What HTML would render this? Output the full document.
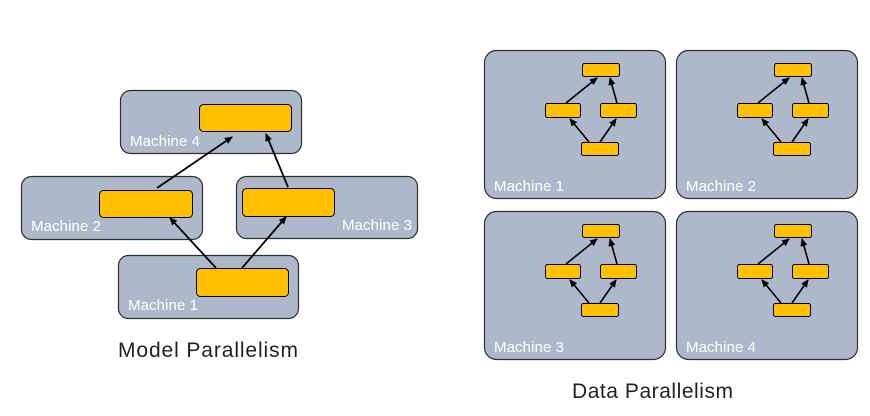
<!DOCTYPE html>
<html><head><meta charset="utf-8"><style>
html,body{margin:0;padding:0;background:#fff;}
svg{display:block;}
text{font-family:"Liberation Sans","Noto Sans CJK SC",sans-serif;}
</style></head><body>
<svg width="870" height="416" viewBox="0 0 870 416" xmlns="http://www.w3.org/2000/svg">
<defs>
<marker id="a" markerWidth="8" markerHeight="8" refX="7" refY="4" orient="auto" markerUnits="userSpaceOnUse">
<path d="M0,0.5 L8,4 L0,7.5 Z" fill="#000"/></marker>
<g id="m">
<rect x="484.5" y="50.5" width="181" height="148" rx="12" fill="#adb9ca" stroke="#2f2f2f" stroke-width="1.2"/>
<g fill="#ffc000" stroke="#000" stroke-width="1">
<rect x="582.5" y="63.5" width="37" height="13" rx="2"/>
<rect x="545.5" y="103.5" width="35" height="14" rx="2"/>
<rect x="600.5" y="103.5" width="36" height="14" rx="2"/>
<rect x="581.5" y="142.5" width="37" height="13" rx="2"/>
</g>
<g stroke="#000" stroke-width="1.6" marker-end="url(#a)">
<line x1="566" y1="103" x2="597" y2="78"/>
<line x1="617" y1="103" x2="610" y2="78"/>
<line x1="589" y1="142" x2="570" y2="119"/>
<line x1="600" y1="142" x2="616" y2="119"/>
</g>
</g>
</defs>
<g fill="#adb9ca" stroke="#2f2f2f" stroke-width="1.2">
<rect x="120.5" y="90.5" width="181" height="63" rx="10"/>
<rect x="21.5" y="176.5" width="181" height="63" rx="10"/>
<rect x="236.5" y="176.5" width="181" height="62" rx="10"/>
<rect x="118.5" y="255.5" width="180" height="63" rx="10"/>
</g>
<g fill="#ffc000" stroke="#000" stroke-width="1">
<rect x="199.5" y="104.5" width="92" height="27" rx="4"/>
<rect x="99.5" y="190.5" width="93" height="27" rx="4"/>
<rect x="242.5" y="188.5" width="92" height="28" rx="4"/>
<rect x="196.5" y="268.5" width="92" height="28" rx="4"/>
</g>
<g stroke="#000" stroke-width="1.8" marker-end="url(#a)">
<line x1="216" y1="268" x2="170" y2="218"/>
<line x1="242" y1="268" x2="286" y2="217"/>
<line x1="157" y1="188" x2="232" y2="137"/>
<line x1="288" y1="187" x2="266" y2="134"/>
</g>
<g fill="#fff" font-size="15">
<text x="130" y="146" textLength="70">Machine 4</text>
<text x="31" y="231" textLength="70">Machine 2</text>
<text x="342" y="230" textLength="70">Machine 3</text>
<text x="128" y="310" textLength="70">Machine 1</text>
</g>
<text x="118" y="357" font-size="21" fill="#222" textLength="180">Model Parallelism</text>
<use href="#m"/>
<use href="#m" transform="translate(192,0)"/>
<use href="#m" transform="translate(0,161)"/>
<use href="#m" transform="translate(192,161)"/>
<g fill="#fff" font-size="15">
<text x="494" y="191" textLength="70">Machine 1</text>
<text x="686" y="191" textLength="70">Machine 2</text>
<text x="494" y="352" textLength="70">Machine 3</text>
<text x="686" y="352" textLength="70">Machine 4</text>
</g>
<text x="572" y="398" font-size="21" fill="#222" textLength="161">Data Parallelism</text>
</svg>
</body></html>
